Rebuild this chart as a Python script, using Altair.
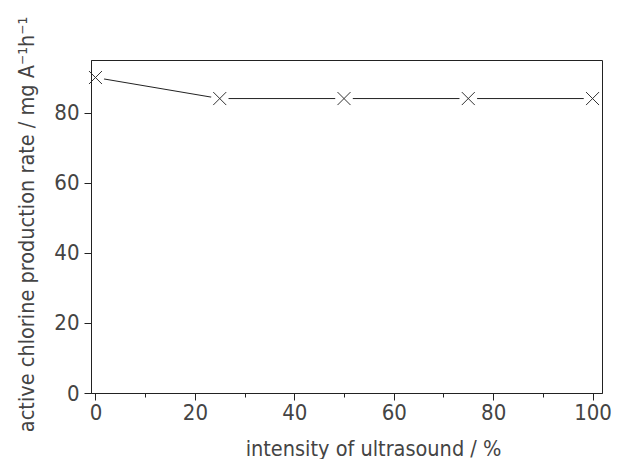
import altair as alt
import pandas as pd

intensity = [0, 25, 50, 75, 100]
rate = [90, 84, 84, 84, 84]

x_ticks = [0, 10, 20, 30, 40, 50, 60, 70, 80, 90, 100]
y_ticks = [0, 10, 20, 30, 40, 50, 60, 70, 80, 90]

df = pd.DataFrame({"intensity": intensity, "rate": rate})

FONT = "Liberation Sans Narrow, DejaVu Sans Condensed, Roboto Condensed, Liberation Sans, sans-serif"
TEXT = "#444444"

x_enc = alt.X(
    "intensity:Q",
    scale=alt.Scale(domain=[-0.9, 101.9], nice=False, zero=False),
    axis=alt.Axis(
        values=x_ticks,
        title="intensity of ultrasound / %",
        labelExpr="datum.value % 20 === 0 ? datum.label : ''",
        tickSize={"condition": {"test": "datum.value % 20 === 0", "value": 7}, "value": 4},
        grid=False,
        domainColor="#222222",
        tickColor="#222222",
        labelFont=FONT,
        labelFontSize=22,
        labelColor=TEXT,
        labelPadding=2,
        labelFlush=False,
        labelOverlap=False,
        titleFont=FONT,
        titleFontSize=21.5,
        titleFontWeight="normal",
        titleColor=TEXT,
        titleX=282,
        titleY=62,
        titleBaseline="alphabetic",
        titleAlign="center",
        zindex=1,
    ),
)

y_enc = alt.Y(
    "rate:Q",
    scale=alt.Scale(domain=[0, 95], nice=False),
    axis=alt.Axis(
        values=y_ticks,
        title="active chlorine production rate / mg A\u207b\u00b9h\u207b\u00b9",
        labelExpr="datum.value % 20 === 0 ? datum.label : ''",
        tickSize={"condition": {"test": "datum.value % 20 === 0", "value": 7}, "value": 4},
        grid=False,
        domainColor="#222222",
        tickColor="#222222",
        labelFont=FONT,
        labelFontSize=22,
        labelColor=TEXT,
        labelPadding=5,
        labelFlush=False,
        labelOverlap=False,
        titleFont=FONT,
        titleFontSize=21.5,
        titleFontWeight="normal",
        titleColor=TEXT,
        titleX=-58,
        titleY=164,
        titleBaseline="alphabetic",
        titleAlign="center",
        titleAngle=270,
        zindex=1,
    ),
)

base = alt.Chart(df)

line = base.mark_line(color="#222222", strokeWidth=1).encode(x=x_enc, y=y_enc)

gaps = base.mark_circle(color="white", opacity=1, size=310).encode(
    x="intensity:Q", y="rate:Q"
)

marks = base.mark_point(
    shape="M-1,-1L1,1M-1,1L1,-1",
    filled=False,
    color="#333333",
    strokeWidth=1,
    size=169,
    opacity=1,
).encode(x="intensity:Q", y="rate:Q")

chart = (
    alt.layer(line, gaps, marks)
    .properties(
        width=511,
        height=333,
        autosize=alt.AutoSizeParams(type="none"),
        padding={"left": 91, "top": 60, "right": 15, "bottom": 66},
        background="white",
    )
    .configure_view(stroke="#222222", strokeWidth=1)
)

chart.save("out.html", embed_options={"renderer": "svg", "actions": False})
